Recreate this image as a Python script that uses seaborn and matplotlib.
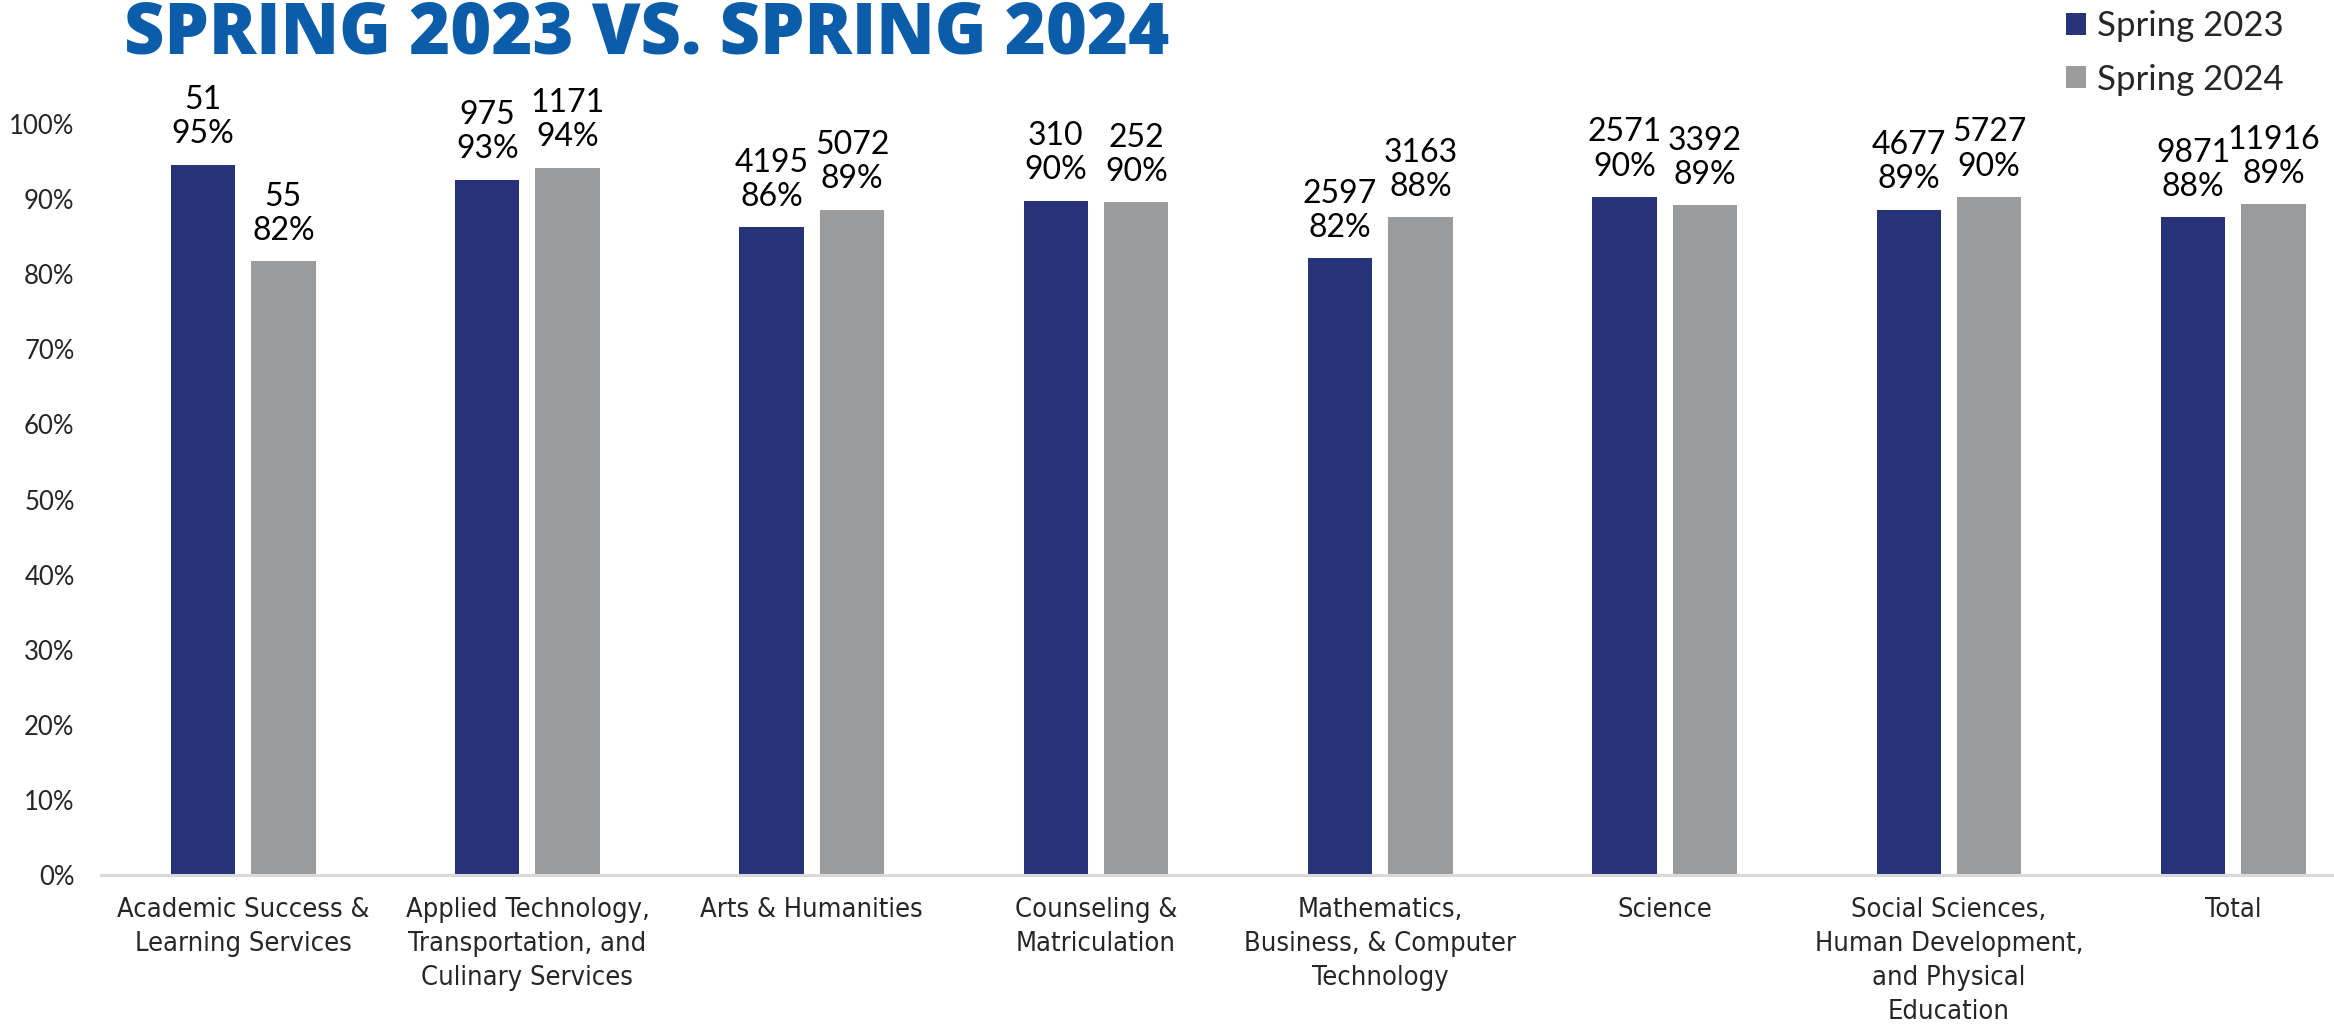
import matplotlib
matplotlib.use("Agg")
import matplotlib.pyplot as plt
import seaborn as sns
import pandas as pd

categories = [
    "Academic Success &\nLearning Services",
    "Applied Technology,\nTransportation, and\nCulinary Services",
    "Arts & Humanities",
    "Counseling &\nMatriculation",
    "Mathematics,\nBusiness, & Computer\nTechnology",
    "Science",
    "Social Sciences,\nHuman Development,\nand Physical\nEducation",
    "Total",
]
seasons = ["Spring 2023", "Spring 2024"]
pct_2023 = [94.6, 92.6, 86.3, 89.8, 82.1, 90.3, 88.6, 87.6]
pct_2024 = [81.7, 94.2, 88.6, 89.6, 87.6, 89.2, 90.3, 89.3]
count_2023 = [51, 975, 4195, 310, 2597, 2571, 4677, 9871]
count_2024 = [55, 1171, 5072, 252, 3163, 3392, 5727, 11916]
yticks = list(range(0, 101, 10))
title = "SPRING 2023 VS. SPRING 2024"

NAVY = "#263378"
GRAY = "#9A9B9D"
TITLE_BLUE = "#0B5DAA"

df = pd.DataFrame({
    "category": categories * 2,
    "season": [seasons[0]] * len(categories) + [seasons[1]] * len(categories),
    "pct": pct_2023 + pct_2024,
})

sns.set_style("white")
plt.rcParams["font.family"] = ["Lato", "DejaVu Sans"]

W, H = 2334, 1026
fig = plt.figure(figsize=(W / 100, H / 100), dpi=100)
left_px, right_px = 101, 2375.4
bottom_px, top_px = 875, 124
ax = fig.add_axes([left_px / W, (H - bottom_px) / H,
                   (right_px - left_px) / W, (bottom_px - top_px) / H])

sns.barplot(data=df, x="category", y="pct", hue="season", order=categories,
            hue_order=seasons, palette=[NAVY, GRAY], width=0.566, gap=0.2,
            saturation=1, linewidth=0, legend=False, ax=ax)

ax.set_xlim(-0.5, 7.5)
ax.set_ylim(0, 100)
ax.set_yticks(yticks)
ax.set_yticklabels([f"{t}%" for t in yticks], fontsize=18.5, family=["Lato", "DejaVu Sans"])
ax.set_xlabel("")
ax.set_ylabel("")
ax.tick_params(axis="y", length=0, pad=19)
ax.tick_params(axis="x", length=0, pad=16)
for lbl in ax.get_xticklabels():
    lbl.set_fontfamily(["DejaVu Sans"])
    lbl.set_fontstretch("condensed")
    lbl.set_fontsize(19.5)
    lbl.set_linespacing(1.4)
    lbl.set_horizontalalignment("center")

for s in ["top", "right", "left"]:
    ax.spines[s].set_visible(False)
ax.spines["bottom"].set_color("#D9D9D9")
ax.spines["bottom"].set_linewidth(2.2)
ax.grid(False)

pcts = [pct_2023, pct_2024]
counts = [count_2023, count_2024]
for cont, p, c in zip(ax.containers, pcts, counts):
    labels = [f"{n}\n{round(v)}%" for n, v in zip(c, p)]
    texts = ax.bar_label(cont, labels=labels, padding=11, fontsize=23,
                         family=["Lato", "DejaVu Sans"], color="black")
    for t in texts:
        t.set_linespacing(1.17)
        t.set_clip_on(False)

leg = ax.legend(handles=[ax.containers[0], ax.containers[1]], labels=seasons,
                loc="upper left", bbox_to_anchor=(2066 / W, 1 - 10 / H),
                bbox_transform=fig.transFigure, frameon=False, fontsize=25,
                handlelength=0.58, handleheight=0.58, handletextpad=0.32,
                labelspacing=0.62, borderpad=0, borderaxespad=0)

fig.text(124 / W, 1 - 53 / H, title, fontsize=50.5, fontweight=800,
         color=TITLE_BLUE, ha="left", va="baseline", family=["Open Sans", "Lato", "DejaVu Sans"])

fig.savefig("out.png", dpi=100)
